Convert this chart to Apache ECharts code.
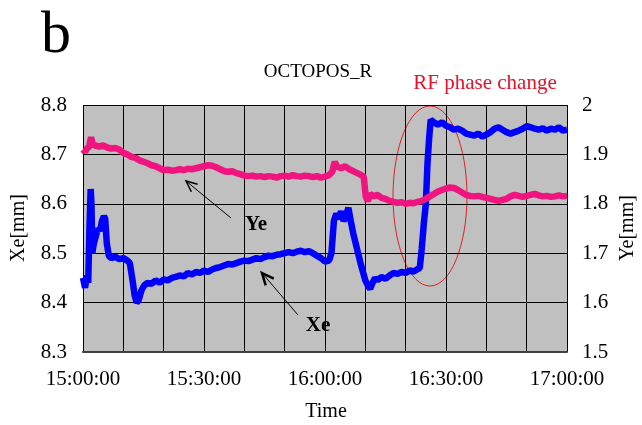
<!DOCTYPE html>
<html>
<head>
<meta charset="utf-8">
<script src="https://cdn.jsdelivr.net/npm/echarts@6/dist/echarts.min.js"></script>
<style>
  html, body { margin: 0; padding: 0; background: #fff; }
  #chart { width: 642px; height: 425px; }
</style>
</head>
<body>
<div id="chart"></div>
<script>
// minutes after 15:00:00
const xeMinutes = [0, 0.5, 1, 1.3, 1.6, 1.9, 2.1, 2.3, 2.7, 3.2, 3.7, 4.2, 4.7, 5.2, 5.5, 5.9, 6.4, 7, 8, 9, 10, 11, 11.6, 12.2, 12.8, 13.3, 13.8, 14.5, 15.2,
  16, 17, 18, 19, 20, 21, 22, 23, 24, 25, 26, 27, 28, 29, 30, 31, 32, 33, 34, 35, 36, 37, 38, 39, 40, 41, 42, 43, 44, 45, 46, 47, 48, 49, 50,
  51, 52, 53, 54, 55, 56, 57, 58, 59, 60, 61, 61.6, 62.2, 62.8, 63.4, 64, 64.6, 65.2, 65.8, 66.4, 67, 67.6, 68.2, 68.8, 69.4, 70, 70.6, 71.2, 71.8,
  72.4, 73, 74, 75, 76, 77, 78, 79, 80, 81, 82, 83, 83.5, 84, 84.5, 85, 85.4, 85.8, 86.2, 87, 88, 89, 90, 91, 92, 93, 94, 95, 96, 97, 98, 99, 100,
  101, 102, 103, 104, 105, 106, 107, 108, 109, 110, 111, 112, 113, 114, 115, 116, 117, 118, 119, 120];
const xeValues = [8.45, 8.43, 8.455, 8.44, 8.55, 8.63, 8.60, 8.50, 8.52, 8.535, 8.55, 8.545, 8.565, 8.575, 8.57, 8.52, 8.495, 8.49, 8.493, 8.488, 8.49, 8.485, 8.48, 8.45, 8.415, 8.40, 8.405, 8.425, 8.435,
  8.44, 8.438, 8.445, 8.44, 8.447, 8.445, 8.45, 8.452, 8.455, 8.453, 8.46, 8.457, 8.462, 8.46, 8.465, 8.462, 8.467, 8.47, 8.472, 8.475, 8.478, 8.477, 8.48, 8.483, 8.485, 8.484, 8.487, 8.49, 8.488, 8.492, 8.495, 8.494, 8.497, 8.498, 8.50,
  8.502, 8.50, 8.503, 8.505, 8.502, 8.504, 8.50, 8.495, 8.49, 8.483, 8.485, 8.50, 8.565, 8.58, 8.57, 8.585, 8.565, 8.575, 8.592, 8.565, 8.54, 8.52, 8.50, 8.48, 8.462, 8.445, 8.435, 8.428, 8.44,
  8.45, 8.445, 8.452, 8.448, 8.455, 8.46, 8.458, 8.462, 8.46, 8.465, 8.463, 8.468, 8.47, 8.51, 8.56, 8.60, 8.68, 8.73, 8.77, 8.765, 8.76, 8.765, 8.758, 8.755, 8.75, 8.752, 8.748, 8.742, 8.74, 8.738, 8.742, 8.736, 8.74,
  8.745, 8.752, 8.755, 8.75, 8.745, 8.742, 8.745, 8.748, 8.752, 8.757, 8.755, 8.752, 8.75, 8.753, 8.748, 8.752, 8.75, 8.755, 8.748, 8.75];

const yeMinutes = [0, 0.5, 1, 1.5, 2, 2.4, 3, 4, 5, 6, 7, 8, 9, 10, 11, 12, 13, 14, 15, 16, 17, 18, 19, 20, 21, 22, 23, 24, 25, 26, 27, 28, 29, 30,
  31, 32, 33, 34, 35, 36, 37, 38, 39, 40, 41, 42, 43, 44, 45, 46, 47, 48, 49, 50, 51, 52, 53, 54, 55, 56, 57, 58, 59, 60, 61, 61.8, 62.4, 63, 64,
  65, 66, 67, 68, 69, 69.6, 70.1, 70.6, 71.2, 72, 73, 74, 75, 76, 77, 78, 79, 80, 81, 82, 83, 84, 85, 86, 87, 88, 89, 90, 91, 92, 93, 94, 95, 96,
  97, 98, 99, 100, 101, 102, 103, 104, 105, 106, 107, 108, 109, 110, 111, 112, 113, 114, 115, 116, 117, 118, 119, 120];
const yeValues = [1.91, 1.905, 1.912, 1.915, 1.935, 1.92, 1.918, 1.916, 1.918, 1.914, 1.912, 1.913, 1.91, 1.903, 1.90, 1.895, 1.893, 1.888, 1.885, 1.882, 1.878, 1.876, 1.872, 1.868, 1.869, 1.867, 1.868, 1.87, 1.868, 1.871, 1.87, 1.872, 1.874, 1.876,
  1.878, 1.877, 1.874, 1.87, 1.866, 1.865, 1.866, 1.862, 1.86, 1.857, 1.856, 1.857, 1.855, 1.856, 1.854, 1.856, 1.855, 1.853, 1.856, 1.857, 1.855, 1.858, 1.856, 1.855, 1.857, 1.856, 1.854, 1.856, 1.853, 1.855, 1.858, 1.865, 1.885, 1.875, 1.872,
  1.876, 1.87, 1.866, 1.862, 1.858, 1.855, 1.815, 1.805, 1.82, 1.815, 1.818, 1.812, 1.81, 1.806, 1.804, 1.802, 1.803, 1.80, 1.802, 1.801, 1.804, 1.806, 1.81, 1.815, 1.82, 1.825, 1.828, 1.831, 1.833, 1.832, 1.828, 1.823, 1.818, 1.816,
  1.815, 1.816, 1.814, 1.812, 1.81, 1.808, 1.806, 1.808, 1.81, 1.815, 1.818, 1.816, 1.814, 1.816, 1.818, 1.82, 1.817, 1.815, 1.816, 1.814, 1.815, 1.817, 1.815, 1.816];

const timeTicks = [0, 30, 60, 90, 120];
const timeLabels = ['15:00:00', '15:30:00', '16:00:00', '16:30:00', '17:00:00'];

const serif = 'Liberation Serif';
const chart = echarts.init(document.getElementById('chart'));

function arrow(tip, tail, width, head) {
  const dx = tail[0] - tip[0], dy = tail[1] - tip[1];
  const len = Math.sqrt(dx * dx + dy * dy);
  const ux = dx / len, uy = dy / len;
  const a = 0.42;
  const w1 = [tip[0] + head * (ux * Math.cos(a) - uy * Math.sin(a)), tip[1] + head * (ux * Math.sin(a) + uy * Math.cos(a))];
  const w2 = [tip[0] + head * (ux * Math.cos(a) + uy * Math.sin(a)), tip[1] + head * (-ux * Math.sin(a) + uy * Math.cos(a))];
  return [
    { type: 'polyline', shape: { points: [tip, tail] }, style: { stroke: '#000', lineWidth: 1 } },
    { type: 'polyline', shape: { points: [w1, tip, w2] }, style: { stroke: '#000', lineWidth: width, fill: null } }
  ];
}

chart.setOption({
  animation: false,
  grid: {
    left: 83, right: 75, top: 105, bottom: 73,
    show: true, backgroundColor: '#c0c0c0', borderWidth: 0
  },
  xAxis: {
    type: 'value', min: 0, max: 120, interval: 10,
    axisLine: { show: true, lineStyle: { color: '#404040', width: 2 } },
    axisTick: { show: false },
    splitLine: { show: true, lineStyle: { color: '#000', width: 1 } },
    axisLabel: {
      fontFamily: serif, fontSize: 21, color: '#000', margin: 17,
      formatter: v => { const i = timeTicks.indexOf(v); return i >= 0 ? timeLabels[i] : ''; }
    }
  },
  yAxis: [{
    type: 'value', min: 8.3, max: 8.8, interval: 0.1,
    axisLine: { show: false }, axisTick: { show: false },
    splitLine: { show: true, lineStyle: { color: '#000', width: 1 } },
    axisLabel: { fontFamily: serif, fontSize: 21, color: '#000', margin: 16, formatter: v => v.toFixed(1) }
  }, {
    type: 'value', min: 1.5, max: 2, interval: 0.1,
    axisLine: { show: false }, axisTick: { show: false },
    splitLine: { show: false },
    axisLabel: { fontFamily: serif, fontSize: 21, color: '#000', margin: 15, formatter: v => (Math.abs(v - 2) < 1e-9 ? '2' : v.toFixed(1)) }
  }],
  series: [{
    name: 'Xe', type: 'line', yAxisIndex: 0, showSymbol: false,
    data: xeMinutes.map((t, i) => [t, xeValues[i]]),
    lineStyle: { color: '#0000ff', width: 6.5 }, itemStyle: { color: '#0000ff' }
  }, {
    name: 'Ye', type: 'line', yAxisIndex: 1, showSymbol: false,
    data: yeMinutes.map((t, i) => [t, yeValues[i]]),
    lineStyle: { color: '#f0147f', width: 6.5 }, itemStyle: { color: '#f0147f' }
  }],
  graphic: [
    { type: 'text', left: 41, top: 6, style: { text: 'b', font: '60px "Liberation Serif"', fill: '#000' } },
    { type: 'text', x: 318, y: 72, style: { text: 'OCTOPOS_R', font: '19px "Liberation Serif"', fill: '#000', textAlign: 'center', textVerticalAlign: 'middle' } },
    { type: 'text', x: 485, y: 83, style: { text: 'RF phase change', font: '21px "Liberation Serif"', fill: '#e8102a', textAlign: 'center', textVerticalAlign: 'middle' } },
    { type: 'text', x: 326, y: 412, style: { text: 'Time', font: '20px "Liberation Serif"', fill: '#000', textAlign: 'center', textVerticalAlign: 'middle' } },
    { type: 'text', x: 19, y: 228, rotation: Math.PI / 2, style: { text: 'Xe[mm]', font: '20px "Liberation Serif"', fill: '#000', textAlign: 'center', textVerticalAlign: 'middle' } },
    { type: 'text', x: 628, y: 228, rotation: Math.PI / 2, style: { text: 'Ye[mm]', font: '20px "Liberation Serif"', fill: '#000', textAlign: 'center', textVerticalAlign: 'middle' } },
    { type: 'text', x: 256, y: 225, style: { text: 'Ye', font: 'bold 21px "Liberation Serif"', fill: '#000', textAlign: 'center', textVerticalAlign: 'middle' } },
    { type: 'text', x: 318, y: 326, style: { text: 'Xe', font: 'bold 21px "Liberation Serif"', fill: '#000', textAlign: 'center', textVerticalAlign: 'middle' } },
    { type: 'ellipse', shape: { cx: 430, cy: 196, rx: 37, ry: 90 }, style: { stroke: '#e02020', lineWidth: 1, fill: null } },
    ...arrow([186, 181], [231, 218], 1.5, 12),
    ...arrow([262, 273], [298, 315], 2.5, 13)
  ]
});
</script>
</body>
</html>
